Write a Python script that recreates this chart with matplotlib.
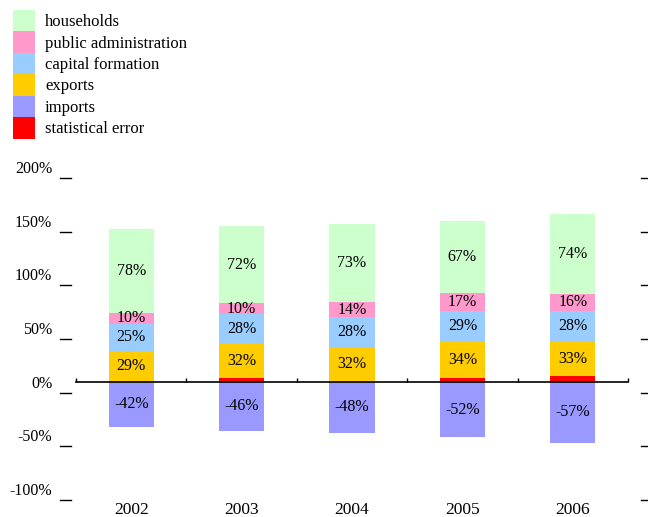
import matplotlib

matplotlib.use("Agg")

import matplotlib.pyplot as plt  # noqa: E402
import matplotlib.transforms as mtransforms  # noqa: E402
from matplotlib.patches import Patch  # noqa: E402

YEARS = ["2002", "2003", "2004", "2005", "2006"]
STAT_ERROR = [0, 3, 0, 3, 5]
EXPORTS = [29, 32, 32, 34, 33]
CAPITAL = [25, 28, 28, 29, 28]
PUBLIC = [10, 10, 14, 17, 16]
HOUSEHOLDS = [78, 72, 73, 67, 74]
IMPORTS = [-42, -46, -48, -52, -57]
Y_TICKS = [-100, -50, 0, 50, 100, 150, 200]

COLORS = {
    "households": "#CCFFCC",
    "public administration": "#FF99CC",
    "capital formation": "#99CCFF",
    "exports": "#FFCC00",
    "imports": "#9999FF",
    "statistical error": "#FF0000",
}

plt.rcParams["font.family"] = ["Liberation Serif", "DejaVu Serif"]

W, H = 648, 517
fig = plt.figure(figsize=(W / 100, H / 100), dpi=100)
ax = fig.add_axes([76 / W, (H - 489) / H, (628 - 76) / W, (489 - 167) / H])

x = list(range(len(YEARS)))
bw = 0.41

# positive stack, bottom to top
bottom = [0] * len(YEARS)
stack = [
    ("statistical error", STAT_ERROR, False),
    ("exports", EXPORTS, True),
    ("capital formation", CAPITAL, True),
    ("public administration", PUBLIC, True),
    ("households", HOUSEHOLDS, True),
]
for name, vals, show in stack:
    ax.bar(x, vals, bw, bottom=bottom, color=COLORS[name], linewidth=0)
    if show:
        for xi, b, v in zip(x, bottom, vals):
            ax.text(xi, b + v / 2, f"{v}%", ha="center", va="center", fontsize=11.5)
    bottom = [b + v for b, v in zip(bottom, vals)]

ax.bar(x, IMPORTS, bw, color=COLORS["imports"], linewidth=0)
for xi, v in zip(x, IMPORTS):
    ax.text(xi, v / 2, f"{v}%", ha="center", va="center", fontsize=11.5)

ax.set_xlim(-0.5, len(YEARS) - 0.5)
ax.set_ylim(-100, 200)

for s in ["left", "right", "top"]:
    ax.spines[s].set_visible(False)
ax.spines["bottom"].set_position(("data", 0))
ax.spines["bottom"].set_linewidth(1.2)
ax.set_xticks([i - 0.5 for i in range(len(YEARS) + 1)])
ax.set_xticklabels([])
ax.tick_params(axis="x", direction="in", length=3, width=1)

ax.set_yticks(Y_TICKS)
ax.set_yticklabels([f"{t}%" for t in Y_TICKS], fontsize=11.5)
ax.tick_params(axis="y", length=0, pad=17)

# dash marks sitting just under each y label, on both sides
dash = mtransforms.blended_transform_factory(fig.transFigure, ax.transData)
dash = dash + mtransforms.ScaledTranslation(0, -8 / 72, fig.dpi_scale_trans)
for t in Y_TICKS:
    for x0, x1 in [(60, 71), (641, 648)]:
        fig.add_artist(plt.Line2D([x0 / W, x1 / W], [t, t], transform=dash,
                                  color="black", linewidth=1))

for xi, yr in zip(x, YEARS):
    ax.text(xi, -0.065, yr, transform=ax.get_xaxis_transform(),
            ha="center", va="center", fontsize=12.5)

legend_order = ["households", "public administration", "capital formation",
                "exports", "imports", "statistical error"]
handles = [Patch(facecolor=COLORS[n], edgecolor="none") for n in legend_order]
fig.legend(handles, legend_order, loc="upper left", bbox_to_anchor=(13 / W, 1 - 10 / H),
           frameon=False, fontsize=12, handlelength=1.32, handleheight=1.6,
           labelspacing=0.0, handletextpad=0.6, borderpad=0.0, borderaxespad=0.0)

fig.savefig("out.png", dpi=100)
